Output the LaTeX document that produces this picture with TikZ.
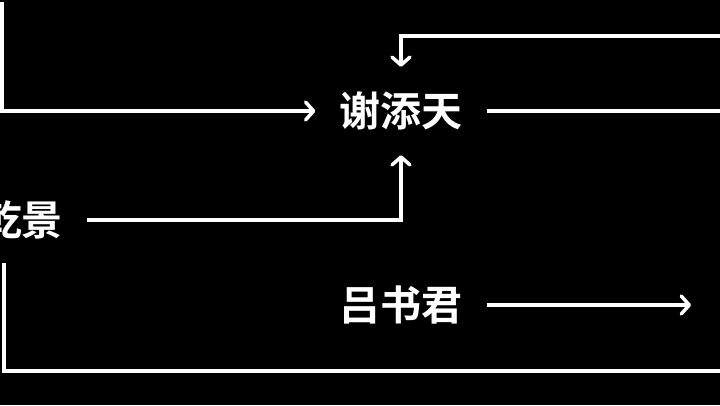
\documentclass[tikz,border=0pt]{standalone}
\usepackage{fontspec}
\newfontfamily\cjk{Noto Sans CJK SC Bold}
\usetikzlibrary{arrows.meta}
\begin{document}
\begin{tikzpicture}[x=1pt,y=-1pt,
  person/.style={text=white,font=\cjk\fontsize{41}{41}\selectfont,inner xsep=24pt,inner ysep=24pt,text height=35pt,text depth=5pt,anchor=center},
  link/.style={draw=white,line width=3.5pt},
  arr/.style={link,-{Straight Barb[length=8pt,width=18pt,line cap=round,line join=round]}}]
\fill[black] (0,0) rectangle (720,405);
\useasboundingbox (0,0) rectangle (720,405);
\node[person] (A) at (401,111) {谢添天};
\node[person] (B) at (22,220) {乾景};
\node[person] (C) at (401,305) {吕书君};
\coordinate (tl) at (2,2);
\coordinate (tr) at (721,36);
\coordinate (ar) at (721,111);
\coordinate (cr) at (691,305);
\coordinate (bl) at (4,263);
\coordinate (br) at (721,371);
\draw[arr] (tl) |- (A.west);
\draw[arr] (tr) -| (A.north);
\draw[link] (A.east) -- (ar);
\draw[arr] (B.east) -| (A.south);
\draw[arr] (C.east) -- (cr);
\draw[link] (bl) |- (br);
\end{tikzpicture}
\end{document}
